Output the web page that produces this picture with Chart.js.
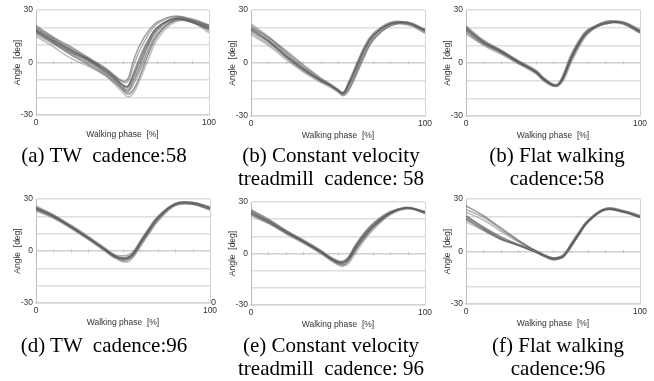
<!DOCTYPE html>
<html><head><meta charset="utf-8">
<script src="https://cdn.jsdelivr.net/npm/chart.js@4.4.0/dist/chart.umd.min.js"></script>
<style>
body{margin:0;background:#fff;width:654px;height:381px;position:relative;overflow:hidden;}
canvas{position:absolute;}
.cap{position:absolute;width:220px;font-family:"Liberation Serif","Times New Roman",serif;font-size:21px;line-height:23px;color:#000;white-space:pre;text-align:center;}
.stray{position:absolute;font-family:"Liberation Sans",Arial,sans-serif;font-size:9px;color:#333;}
</style></head><body>
<script>
// walking phase sample positions [%]
const phase = [0,10,20,30,40,45,50,53,56,60,65,70,80,90,100];
const yLabelTicks = [-30, 0, 30];
const xTitle = 'Walking phase  [%]';
const yTitle = 'Angle  [deg]';

// (a) TW cadence 58
const a1 = [18,12.5,7,2,-4,-8,-12.5,-13.5,-7,3,13,20,25,23,19];
const a2 = [20,14,8,2.5,-3.5,-7.5,-11,-11,-3,7,16,22,26,24,20];
const a3 = [16,10.5,5,0,-6,-10,-14.5,-16,-11,-4,8,17,24,23,18];
const a4 = [21,14.5,9,3,-3,-7,-10.5,-9.5,0,10,18,23,26.5,24.5,21];
const a5 = [17,11,4.5,-1,-7,-11,-15.5,-18,-16,-8,5,15,24,23.5,20];
const a6 = [19,13,6.5,1,-5,-9.5,-13.5,-14.5,-8,0,11,19,25.5,25,21.5];
const a7 = [15,9,2.5,-2,-7.5,-12,-17,-19.5,-18,-10,2,13,23,23,17];
const a8 = [19.5,13.5,7.5,2,-4.5,-8.5,-13,-14,-9,1,12,20,25,24,20.5];
const a9 = [18.5,12,6,1.5,-5.5,-9,-14,-16,-11,-2,10,18.5,24.5,23.5,19];
const a10 = [17.5,11.5,5.5,0.5,-6,-10,-15,-17,-13,-5,7,16,24,24,21];

// (b) constant velocity treadmill cadence 58
const b1 = [19,12.5,4,-3.5,-10,-12.5,-15.5,-17,-12.5,-4,7,15,22,22.5,18];
const b2 = [21,14,5.5,-2.5,-9.5,-12,-15,-16.5,-11,-2,9,16.5,22.5,23,19];
const b3 = [17,11,3,-4.5,-10.5,-13,-16,-18,-14.5,-6,5,13.5,21.5,22,17];
const b4 = [20,14.5,7,-1,-8.5,-11.5,-15,-17,-12,-3,8,15.5,22,22,18.5];
const b5 = [18,12,3.5,-4,-10,-12.5,-16,-18,-15,-7,4,13,21,23,19];
const b6 = [22,15,6,-2,-9,-12,-15.5,-17,-11.5,-3,8.5,16,23,22.5,18];
const b7 = [16,10,2,-5,-11,-13.5,-16.5,-18.5,-16,-8,3,12.5,21,21.5,17];
const b8 = [19.5,13,4.5,-3,-9.5,-12.5,-15.5,-17.5,-13.5,-5,6,14.5,22.5,23,18.5];

// (c) flat walking cadence 58
const c1 = [19,11.5,6.5,0.5,-5,-9.5,-12.5,-12.3,-8,1.5,11,17.5,22.5,23,18];
const c2 = [21,13,7.5,1.5,-4,-8.5,-12,-11.5,-6,4,13,19,23,22.5,17.5];
const c3 = [17,10,5,-0.5,-6,-10.5,-13,-13,-10,-1,9,16.5,22.5,23,18.5];
const c4 = [20,12.5,7,1,-4.5,-9,-12.3,-12.5,-9,0.5,10,17,23.5,22.5,17];
const c5 = [18,11,6,0,-5.5,-10,-13,-12.5,-7,3,12,18.5,22,23,18];
const c6 = [20.5,12,6.5,0.5,-5,-9.5,-12.5,-12.5,-8.5,1,10.5,17,22.5,22,17];
const c7 = [16.5,10.5,5.5,0,-5.5,-10,-13,-12.5,-8,2,11.5,18,23,23.5,19];
const c8 = [19.5,12,7,1,-4.5,-9,-12.2,-12.2,-7.5,2.5,12,18,22.5,22.5,18];

// (d) TW cadence 96
const d1 = [24.5,20,14,7.5,0.5,-3,-4.3,-3.8,-1.5,4.5,12,19,27,27.5,24.5];
const d2 = [26,21,15,8.5,1.5,-2,-2.8,-2.3,0,6,13.5,20,27.5,28,25];
const d3 = [23,19,13,6.5,-0.5,-4,-5.8,-5.3,-3,3,10.5,17.5,26.5,27.5,24];
const d4 = [25,20.5,14.5,8,1,-2.5,-3.8,-3.3,-1,5.5,13,19.5,27,28,25.5];
const d5 = [24,19.5,13.5,7,0,-3.5,-5.3,-4.8,-2.5,3.5,11,18,26.5,27,24];
const d6 = [25.5,20.5,14,7.5,0.5,-3,-4.8,-4.3,-2,4,11.5,18.5,27,27.5,24.5];
const d7 = [23.5,19,13.5,7,0,-3.5,-6.2,-6.2,-3.5,2.5,10,17,26,27,23.5];
const d8 = [24.5,20,14,7.5,1,-2.5,-4.3,-3.8,-1.5,5,12.5,19,27.5,28,25];

// (e) constant velocity treadmill cadence 96
const e1 = [23.5,18.5,12.5,7,1,-2.5,-5.2,-5.5,-3.2,3,10,15.5,23.5,26.5,24];
const e2 = [25,19.5,13.5,8,2,-1.5,-4.2,-4.3,-2,5,12,17.5,24.5,26.5,23.5];
const e3 = [22,17.5,11.5,6,0,-3.5,-6.8,-7.5,-5.8,0,7.5,13.5,22.5,26,24.5];
const e4 = [24.5,19,13,7.5,1.5,-2,-4.7,-5,-2.8,4,11,16.5,24,27,24];
const e5 = [23,18,12,6.5,0.5,-3,-5.8,-6.5,-4.3,2,9,15,23,26.5,24.5];
const e6 = [24,19,13,7,1,-2.5,-5.2,-5.5,-3.2,3.5,10.5,16,23.5,26,23.5];
const e7 = [22.5,17.5,12,6.5,0.5,-3,-6.3,-7,-4.8,1.5,8.5,14.5,23,26.5,24];
const e8 = [25.5,20,13.5,7.5,1.5,-2,-4.7,-4.8,-2.3,4.5,11.5,17,24,26.5,23.5];

// (f) flat walking cadence 96
const f1 = [26,20.5,13.5,6.5,0.5,-2.3,-3.7,-3.5,-2.5,3,10.5,17,24,23,20];
const f2 = [24,19.5,12.5,6,0,-2.8,-4.2,-3.8,-2.7,3.5,11,17.5,24.5,23,19.5];
const f3 = [22.5,18,11.5,5.5,0,-2.3,-3.7,-3.3,-2.2,4,11.5,18,24.5,23.5,20.5];
const f4 = [20,13.5,7.5,3.5,0,-2.3,-4.2,-3.8,-2.7,2.5,10,17,24,23,20];
const f5 = [18.5,12.5,7,3.5,-0.5,-2.8,-4.7,-4.3,-3.2,2,9.5,16.5,24,22.5,19.5];
const f6 = [19,13,8,4,0,-2.3,-4.2,-3.8,-2.2,3,10.5,17.5,24.5,23,19.5];
const f7 = [17,12,7,3.5,-0.5,-2.8,-4.7,-4.3,-2.7,2.5,10,17,23.5,22.5,19.5];
const f8 = [20.5,14,8.5,4,0.5,-1.8,-3.7,-3.3,-1.7,3.5,11,17.5,24.5,23.5,20.5];

const captions = [
  '(a) TW  cadence:58',
  '(b) Constant velocity\ntreadmill  cadence: 58',
  '(b) Flat walking\ncadence:58',
  '(d) TW  cadence:96',
  '(e) Constant velocity\ntreadmill  cadence: 96',
  '(f) Flat walking\ncadence:96'
];

const panels = [
  {series:[a1,a2,a3,a4,a5,a6,a7,a8,a9,a10], L:36, R:209, T:10, B:115, cx:104, cy:155},
  {series:[b1,b2,b3,b4,b5,b6,b7,b8], L:251, R:425, T:10, B:116, cx:331, cy:155},
  {series:[c1,c2,c3,c4,c5,c6,c7,c8], L:466, R:640, T:10, B:116, cx:557, cy:155},
  {series:[d1,d2,d3,d4,d5,d6,d7,d8], L:36, R:210, T:199, B:303, cx:104, cy:345},
  {series:[e1,e2,e3,e4,e5,e6,e7,e8], L:251, R:425, T:202, B:305, cx:331, cy:345},
  {series:[f1,f2,f3,f4,f5,f6,f7,f8], L:466, R:640, T:199, B:304, cx:558, cy:345}
];

const lineColors = ['rgba(80,80,80,0.6)','rgba(115,115,115,0.55)','rgba(145,145,145,0.6)','rgba(95,95,95,0.6)'];
const axisFont = {family:'"Liberation Sans", Arial, sans-serif', size:8.5};

// small tick marks along the zero line (axis style)
const zeroTicks = {
  id: 'zeroTicks',
  beforeDatasetsDraw(chart) {
    const {ctx, scales: {x, y}} = chart;
    const y0 = y.getPixelForValue(0);
    ctx.save();
    ctx.strokeStyle = '#c4c4c4';
    ctx.lineWidth = 1;
    for (let v = 10; v < 100; v += 10) {
      const px = Math.round(x.getPixelForValue(v)) + 0.5;
      ctx.beginPath(); ctx.moveTo(px, y0 - 1.5); ctx.lineTo(px, y0 + 1.5); ctx.stroke();
    }
    ctx.restore();
  }
};

panels.forEach((p, i) => {
  const cv = document.createElement('canvas');
  const w = p.R - p.L + 42, h = p.B - p.T + 40;
  cv.width = w; cv.height = h;
  cv.style.left = (p.L - 30) + 'px';
  cv.style.top = (p.T - 8) + 'px';
  cv.style.width = w + 'px'; cv.style.height = h + 'px';
  document.body.appendChild(cv);

  const cap = document.createElement('div');
  cap.className = 'cap';
  cap.textContent = captions[i];
  cap.style.left = (p.cx - 110) + 'px';
  cap.style.top = (p.cy - 11.5) + 'px';
  document.body.appendChild(cap);

  new Chart(cv, {
    type: 'line',
    data: {
      datasets: p.series.map((s, k) => ({
        data: s.map((v, j) => ({x: phase[j], y: v})),
        borderColor: lineColors[k % lineColors.length],
        borderWidth: 1.5,
        pointRadius: 0,
        tension: 0.4,
        fill: false
      }))
    },
    options: {
      responsive: false,
      animation: false,
      events: [],
      layout: {padding: {left: 7, top: 8, right: 12, bottom: 7}},
      plugins: {legend: {display: false}, tooltip: {enabled: false}},
      scales: {
        x: {
          type: 'linear', min: 0, max: 100,
          ticks: {stepSize: 100, padding: 3, color: '#333', font: axisFont, maxRotation: 0},
          grid: {color: '#d4d4d4', lineWidth: 1, drawTicks: false},
          border: {color: '#d4d4d4', width: 1.5},
          title: {display: true, text: xTitle, color: '#333', font: axisFont, padding: 0},
          afterFit: (sc) => { sc.height = 25; sc.paddingLeft = 0; sc.paddingRight = 0; }
        },
        y: {
          type: 'linear', min: -30, max: 30,
          ticks: {stepSize: 10, padding: 3, color: '#333', font: axisFont,
                  callback: (v) => yLabelTicks.includes(v) ? String(v) : ''},
          grid: {color: (ctx) => ctx.tick && ctx.tick.value === 0 ? '#cfcfcf' : '#dedede', lineWidth: 1.5, drawTicks: false},
          border: {color: '#bdbdbd', width: 1},
          title: {display: true, text: yTitle, color: '#333', font: axisFont, padding: 0},
          afterFit: (sc) => { sc.width = 23; sc.paddingTop = 0; sc.paddingBottom = 0; }
        }
      }
    },
    plugins: [zeroTicks]
  });
});

const stray = document.createElement('div');
stray.className = 'stray';
stray.textContent = '0';
stray.style.left = '211px';
stray.style.top = '297px';
document.body.appendChild(stray);
</script>
</body></html>
